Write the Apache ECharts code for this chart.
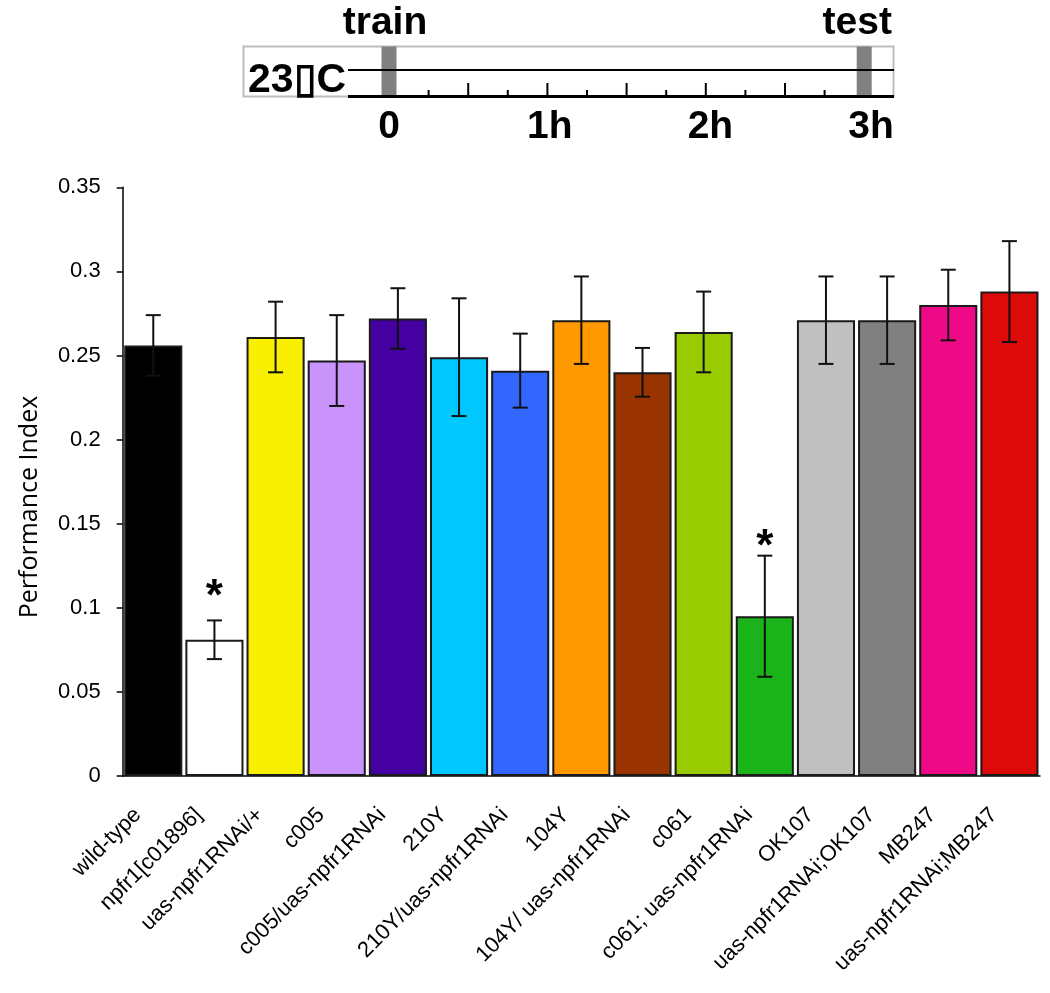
<!DOCTYPE html>
<html>
<head>
<meta charset="utf-8">
<script src="https://cdn.jsdelivr.net/npm/echarts@6/dist/echarts.min.js"></script>
<style>
html,body{margin:0;padding:0;background:#fff;}
#chart{width:1050px;height:993px;}
</style>
</head>
<body>
<div id="chart"></div>
<script>
// ---- data ----
const categories = ['wild-type','npfr1[c01896]','uas-npfr1RNAi/+','c005','c005/uas-npfr1RNAi','210Y','210Y/uas-npfr1RNAi','104Y','104Y/ uas-npfr1RNAi','c061','c061; uas-npfr1RNAi','OK107','uas-npfr1RNAi;OK107','MB247','uas-npfr1RNAi;MB247'];
const values = [0.256, 0.081, 0.261, 0.247, 0.272, 0.249, 0.241, 0.271, 0.240, 0.264, 0.095, 0.271, 0.271, 0.280, 0.288];
const errors = [0.018, 0.0115, 0.021, 0.027, 0.018, 0.035, 0.022, 0.026, 0.0145, 0.024, 0.036, 0.026, 0.026, 0.021, 0.030];
const significance = ['', '*', '', '', '', '', '', '', '', '', '*', '', '', '', ''];
const significanceLevel = [null, 0.111, null, null, null, null, null, null, null, null, 0.141, null, null, null, null];
const barColors = ['#000000','#ffffff','#f9ef00','#c993fb','#4400a0','#00c8ff','#3366ff','#ff9900','#993300','#99cc00','#1ab31a','#c0c0c0','#808080','#ee0a87','#dd0a0a'];
const yTicks = [0, 0.05, 0.1, 0.15, 0.2, 0.25, 0.3, 0.35];
const yAxisTitle = 'Performance Index';
// timeline diagram
const timelineHours = ['0', '1h', '2h', '3h'];
const timelineEvents = [{name: 'train', minute: 0}, {name: 'test', minute: 180}];
const temperatureLabel = '23\u25AFC';

// ---- timeline geometry (decorative diagram) ----
const tlX0 = 389, tlPxPerMin = 158.4 / 60;
const tlx = m => tlX0 + m * tlPxPerMin;
const tlGraphics = [];
tlGraphics.push({type:'rect', shape:{x:243.5, y:46.5, width:650, height:50}, style:{fill:'none', stroke:'#bdbdbd', lineWidth:2}, z:1});
timelineEvents.forEach(ev => {
  tlGraphics.push({type:'rect', shape:{x:tlx(ev.minute)-7.5, y:46.5, width:15, height:50}, style:{fill:'#808080'}, z:2});
});
tlGraphics.push({type:'line', shape:{x1:348, y1:70, x2:894, y2:70}, style:{stroke:'#000', lineWidth:2}, z:3});
tlGraphics.push({type:'line', shape:{x1:348, y1:96.5, x2:894, y2:96.5}, style:{stroke:'#000', lineWidth:3}, z:3});
for (let k = 1; k < 12; k++) {
  const x = tlx(k * 15);
  tlGraphics.push({type:'line', shape:{x1:x, y1:96, x2:x, y2:(k % 2 === 0 ? 83 : 90)}, style:{stroke:'#000', lineWidth:2}, z:3});
}
tlGraphics.push({type:'text', left:248, top:60, style:{text:temperatureLabel, font:'bold 41px "Liberation Sans", Arial, sans-serif', fill:'#000'}, z:4});
timelineEvents.forEach((ev, i) => {
  tlGraphics.push({type:'text', x: (i === 0 ? tlx(ev.minute) - 4 : tlx(ev.minute) - 7), y: 43,
    style:{text:ev.name, font:'bold 39px "Liberation Sans", Arial, sans-serif', fill:'#000', textAlign:'center', textVerticalAlign:'bottom'}, z:4});
});
timelineHours.forEach((h, i) => {
  tlGraphics.push({type:'text', x: tlx(i * 60) + i * 2.3, y: 127,
    style:{text:h, font:'bold 39px "Liberation Sans", Arial, sans-serif', fill:'#000', textAlign:'center', textVerticalAlign:'middle'}, z:4});
});
// y-axis title
tlGraphics.push({type:'text', x:30, y:507, rotation:Math.PI/2,
  style:{text:yAxisTitle, font:'25px "Open Sans", "Noto Sans", sans-serif', fill:'#000', textAlign:'center', textVerticalAlign:'middle'}, z:4});

const chart = echarts.init(document.getElementById('chart'), null, {renderer:'canvas'});
const option = {
  backgroundColor:'#ffffff',
  animation:false,
  grid:{left:122.7, right:10, top:187.3, bottom:217},
  xAxis:{
    type:'category', data:categories,
    axisLine:{show:true, lineStyle:{color:'#000', width:1.5}},
    axisTick:{show:false},
    axisLabel:{interval:0, rotate:45, margin:20, padding:[0,22,0,0], color:'#000', fontSize:22, fontFamily:'"Liberation Sans", Arial, sans-serif'}
  },
  yAxis:{
    type:'value', min:yTicks[0], max:yTicks[yTicks.length-1], interval:0.05,
    axisLine:{show:true, lineStyle:{color:'#000', width:1.5}},
    axisTick:{show:true, inside:false, length:6, lineStyle:{color:'#000', width:1.5}},
    splitLine:{show:false},
    axisLabel:{margin:22, color:'#000', fontSize:22, fontFamily:'"Liberation Sans", Arial, sans-serif', formatter: v => String(+v.toFixed(2))}
  },
  graphic: tlGraphics,
  series:[
    {
      type:'bar', barCategoryGap:'5%',
      data: values.map((v,i)=>({value:v, itemStyle:{color:barColors[i]}})),
      itemStyle:{borderColor:'#1a1a1a', borderWidth:2},
      z:2
    },
    {
      type:'custom',
      data: values.map((v,i)=>[i, v, errors[i]]),
      z:5,
      renderItem:(params, api) => {
        const i = api.value(0), v = api.value(1), e = api.value(2);
        const top = api.coord([i, v + e]);
        const bot = api.coord([i, v - e]);
        const cap = 7.5;
        const style = {stroke:'#111', lineWidth:2};
        const children = [
          {type:'line', shape:{x1:top[0], y1:top[1], x2:bot[0], y2:bot[1]}, style},
          {type:'line', shape:{x1:top[0]-cap, y1:top[1], x2:top[0]+cap, y2:top[1]}, style},
          {type:'line', shape:{x1:bot[0]-cap, y1:bot[1], x2:bot[0]+cap, y2:bot[1]}, style}
        ];
        if (significance[i]) {
          const p = api.coord([i, significanceLevel[i]]);
          children.push({type:'text', x:p[0], y:p[1] + 9,
            style:{text:significance[i], font:'bold 44px "Liberation Sans", Arial, sans-serif', fill:'#000', textAlign:'center', textVerticalAlign:'middle'}});
        }
        return {type:'group', children};
      }
    }
  ]
};
chart.setOption(option);
</script>
</body>
</html>
